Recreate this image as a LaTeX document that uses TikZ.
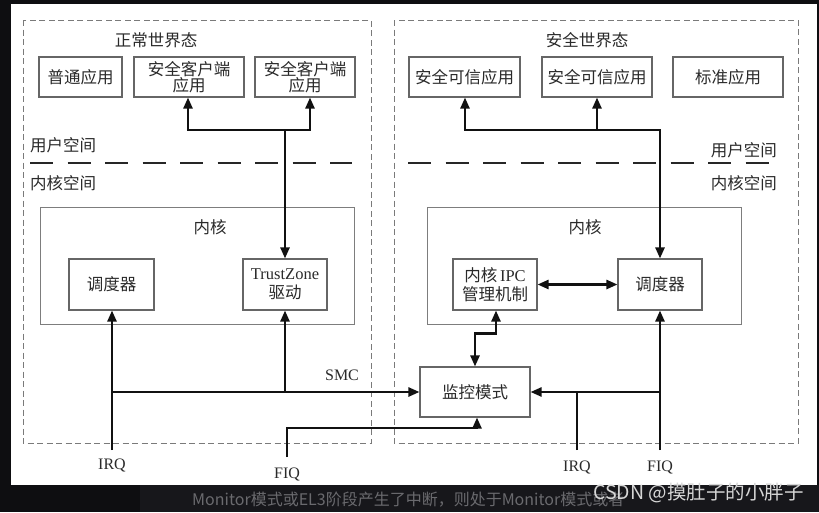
\documentclass[tikz,border=0pt]{standalone}
\usepackage{fontspec}
\setmainfont{Liberation Serif}
\newfontfamily\cjk{Noto Sans CJK SC}
\usetikzlibrary{arrows.meta,calc}
\definecolor{bgdark}{HTML}{0E0E11}
\definecolor{bgpanel}{HTML}{17171B}
\definecolor{boxgray}{HTML}{666666}
\definecolor{dashgray}{HTML}{7A7A7A}
\definecolor{txt}{HTML}{2A2A2A}
\definecolor{wirec}{HTML}{111111}
\definecolor{captgray}{HTML}{6A6A6E}
\definecolor{markgray}{HTML}{D6D6D6}
\tikzset{
  box/.style={draw=boxgray, line width=1.1pt, inner sep=0pt, align=center, text=txt,
    font=\cjk\fontsize{16.5}{16}\selectfont},
  kbox/.style={draw=boxgray!85, line width=1pt, inner sep=0pt},
  region/.style={draw=dashgray, line width=0.9pt, dash pattern=on 6pt off 3.5pt},
  sepline/.style={draw=black!85, line width=2.6pt, dash pattern=on 23pt off 14.5pt},
  wire/.style={draw=wirec, line width=2.4pt},
  arr/.style={wire, -{Triangle[length=11pt,width=9pt]}},
  darr/.style={wire, {Triangle[length=11pt,width=9pt]}-{Triangle[length=11pt,width=9pt]}},
  lbl/.style={text=txt, font=\cjk\fontsize{16.5}{16.5}\selectfont, inner sep=0pt},
  lat/.style={text=txt, font=\fontsize{16}{16}\selectfont, inner sep=0pt},
}
\begin{document}
\begin{tikzpicture}[x=1pt,y=-1pt]
% background and frame
\fill[bgdark] (0,0) rectangle (819,512);
\fill[bgpanel] (140,485) rectangle (819,512);
\fill[white] (11,4) rectangle (817,485);
\useasboundingbox (0,0) rectangle (819,512);

% world regions
\draw[region] (23,20) rectangle (371,443);
\draw[region] (394,20) rectangle (798,443);
\node[lbl] (nwt) at (156,40) {正常世界态};
\node[lbl] (swt) at (587,40) {安全世界态};

% top boxes
\node[box, minimum width=83pt, minimum height=40pt] (a1) at (80.5,77) {普通应用};
\node[box, minimum width=110pt, minimum height=40pt] (a2) at (189,77) {安全客户端\\应用};
\node[box, minimum width=100pt, minimum height=40pt] (a3) at (305,77) {安全客户端\\应用};
\node[box, minimum width=111pt, minimum height=40pt] (b1) at (464.5,77) {安全可信应用};
\node[box, minimum width=110pt, minimum height=40pt] (b2) at (597,77) {安全可信应用};
\node[box, minimum width=110pt, minimum height=40pt] (b3) at (728,77) {标准应用};

% user / kernel space
\node[lbl, anchor=west] (usL) at (30,145) {用户空间};
\node[lbl, anchor=west] (ksL) at (30,183) {内核空间};
\node[lbl, anchor=east] (usR) at (777,150) {用户空间};
\node[lbl, anchor=east] (ksR) at (777,183) {内核空间};
\coordinate (sepL1) at (30,163);
\coordinate (sepL2) at (352,163);
\coordinate (sepR1) at (408,163);
\coordinate (sepR2) at (770,163);
\draw[sepline] (sepL1) -- (sepL2);
\draw[sepline] (sepR1) -- (sepR2);

% kernels
\node[kbox, minimum width=314pt, minimum height=117pt] (lk) at (197,265.5) {};
\node[kbox, minimum width=314pt, minimum height=117pt] (rk) at (584,265.5) {};
\node[lbl] (lkt) at (210,227) {内核};
\node[lbl] (rkt) at (585,227) {内核};

\node[box, minimum width=85pt, minimum height=51pt] (lsch) at (111.5,284.5) {调度器};
\node[box, minimum width=84pt, minimum height=51pt] (tz) at (285,284.5)
  {\rmfamily TrustZone\\[3pt]驱动};
\node[box, minimum width=84pt, minimum height=51pt] (ipc) at (495,284.5)
  {内核\,{\rmfamily IPC}\\[3pt]管理机制};
\node[box, minimum width=84pt, minimum height=51pt] (rsch) at (660,284.5) {调度器};

% monitor
\node[box, minimum width=110pt, minimum height=50pt] (mon) at (475,392) {监控模式};

% top-left connectors
\coordinate (barLa) at (188,130);
\coordinate (barLb) at (310,130);
\draw[wire] ([xshift=-1.2pt]barLa) -- ([xshift=1.2pt]barLb);
\draw[arr] (barLa) -- (barLa |- a2.south);
\draw[arr] (barLb) -- (barLb |- a3.south);
\draw[arr] (tz.north |- barLa) -- (tz.north);

% top-right connectors
\coordinate (barRa) at (465,130);
\coordinate (barRb) at (597,130);
\draw[wire] ([xshift=-1.2pt]barRa) -- ([xshift=1.2pt]rsch.north |- barRa);
\draw[arr] (barRa) -- (barRa |- b1.south);
\draw[arr] (barRb) -- (barRb |- b2.south);
\draw[arr] (rsch.north |- barRa) -- (rsch.north);

% IPC <-> scheduler
\draw[darr] (ipc.east) -- (rsch.west);
% IPC <-> monitor
\coordinate (ipcb) at ([xshift=1pt]ipc.south);
\draw[darr] (ipcb) -- ++(0,23) -| (mon.north);

% left IRQ / SMC / FIQ
\coordinate (irqL) at (112,450);
\draw[arr] (irqL) -- (irqL |- lsch.south);
\draw[arr] (irqL |- mon.west) -- (mon.west);
\draw[arr] (tz.south |- mon.west) -- (tz.south);
\coordinate (fiqL) at (287,457);
\coordinate (fiqLturn) at (287,428);
\draw[arr] (fiqL) -- (fiqLturn) -| ([xshift=2pt]mon.south);
\node[lat] (irqLt) at (112,465) {IRQ};
\node[lat] (fiqLt) at (287,474) {FIQ};
\node[lat] (smct) at (342,375) {SMC};

% right IRQ / FIQ
\coordinate (fiqR) at (660,450);
\coordinate (irqR) at (577,450);
\draw[arr] (fiqR) -- (rsch.south);
\draw[arr] (fiqR |- mon.east) -- (mon.east);
\draw[wire] (irqR) -- ([yshift=-1.2pt]irqR |- mon.east);
\node[lat] (irqRt) at (577,467) {IRQ};
\node[lat] (fiqRt) at (660,467) {FIQ};

% bottom caption strip
\node[anchor=west, inner sep=0pt, text=captgray, font=\cjk\fontsize{16}{16}\selectfont] (capt)
  at (192,500) {Monitor模式或EL3阶段产生了中断，则处于Monitor模式或者};
\node[anchor=west, inner sep=0pt, text=markgray, font=\cjk\fontsize{19.5}{19.5}\selectfont] (mark)
  at (593,493) {CSDN @摸肚子的小胖子};
\end{tikzpicture}
\end{document}
